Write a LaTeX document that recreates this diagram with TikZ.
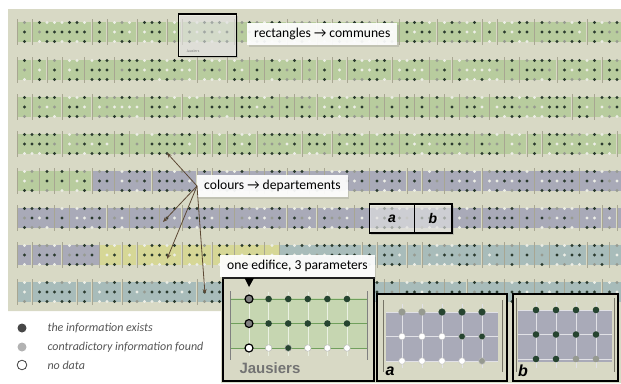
\documentclass[tikz,border=0pt]{standalone}
\usepackage{fontspec}
\setmainfont{Carlito}
\newfontfamily\labelsans{Liberation Sans}
\usepackage{tikz}
\usetikzlibrary{arrows.meta,shadows}

\definecolor{beige}{RGB}{216,217,197}
\definecolor{comgreen}{RGB}{184,204,158}
\definecolor{comgray}{RGB}{169,170,184}
\definecolor{comyellow}{RGB}{214,215,150}
\definecolor{comteal}{RGB}{168,188,186}
\definecolor{dotdark}{RGB}{42,58,46}
\definecolor{dotgray}{RGB}{150,154,144}
\definecolor{dotwhite}{RGB}{236,238,230}
\definecolor{barcol}{RGB}{168,166,146}
\definecolor{arrowbrown}{RGB}{92,72,52}
\definecolor{legendtext}{RGB}{85,85,85}
\definecolor{edgreen}{RGB}{38,68,48}
\definecolor{edline}{RGB}{112,160,92}

% one row of communes: y, start x, fill colour, columns per commune
\newcommand{\communerow}[4]{%
  \xdef\cx{#2}%
  \foreach \n in {#4} {
    \pgfmathsetmacro\cw{(\n+1)*7.5}
    \fill[#3] (\cx+0.8,#1-10) rectangle (\cx+\cw-0.8,#1+10);
    \draw[commbar] (\cx,#1-13) -- (\cx,#1+13);
    \foreach \k in {1,...,\n} {
      \foreach \r in {0,1,2} {
        \pgfmathrandominteger{\s}{1}{20}
        \ifnum\s<13 \def\dc{dotdark}\else\ifnum\s<18 \def\dc{dotwhite}\else\def\dc{dotgray}\fi\fi
        \fill[\dc] (\cx+\k*7.5,#1-9.5+\r*9.5) circle (1.65);
      }
    }
    \pgfmathsetmacro\nx{\cx+\cw}
    \xdef\cx{\nx}
  }
  \draw[commbar] (\cx,#1-13) -- (\cx,#1+13);
}

\begin{document}
\begin{tikzpicture}[x=1pt, y=-1pt]
    \tikzstyle{commbar} = [barcol, line width=0.6]
    \tikzstyle{callout} = [fill=white, fill opacity=0.92, text opacity=1, inner xsep=7pt, minimum height=22pt,
                           font=\fontsize{13.6}{15}\selectfont, drop shadow={opacity=0.25, shadow xshift=1.5pt, shadow yshift=-1.5pt}]
    \tikzstyle{selbox} = [draw=black, line width=1.8, fill=white, fill opacity=0.5,
                          drop shadow={opacity=0.3, shadow xshift=1.5pt, shadow yshift=-1.5pt}]
    \tikzstyle{inset} = [draw=black, line width=1.3, fill=beige]
    \tikzstyle{pointer} = [arrowbrown, line width=0.8, -{Stealth[length=5pt, width=4pt]}]
    \tikzstyle{legend} = [anchor=west, text=legendtext, font=\itshape\fontsize{12}{14}\selectfont]
    \tikzstyle{faint} = [white!65!comgray, line width=0.4]
    \useasboundingbox (0,0) rectangle (621,383);
    \pgfmathsetseed{17}

    % background
    \fill[beige] (8,9) -- (621,9) -- (621,383) -- (221,383) -- (221,311) -- (8,311) -- cycle;

    % the rows of communes
    \begin{scope}
        \clip (8,9) rectangle (621,311);
        \communerow{32}{17}{comgreen}{1,7,1,3,3,1,6,6,3,1,5,2,4,5,1,4,6,4}
        \communerow{70}{17}{comgreen}{1,1,1,2,3,10,3,2,1,4,1,1,1,5,4,2,6,1,4,5,2}
        \communerow{107}{17}{comgreen}{1,3,3,6,4,2,3,5,1,2,6,1,1,1,1,1,1,3,10,2,3}
        \communerow{144}{17}{comgreen}{5,6,1,1,6,1,1,3,5,3,4,3,9,3,2,1,9,1}
        \communerow{181}{17}{comgreen}{2,1,1,2}
        \communerow{181}{92}{comgray}{2,4,5,1,4,1,2,2,1,5,4,1,2,4,6,5,5}
        \communerow{218}{17}{comgray}{4,1,4,2,3,2,4,1,6,3,4,1,5,4,3,4,1,5,2,1,1}
        \communerow{255}{17}{comgray}{1,3,4}
        \communerow{255}{99.5}{comyellow}{2,1,5,3,2,3,1}
        \communerow{255}{279.5}{comteal}{10,1,3,1,7,2,1,1,1,4,2,1}
        \communerow{292}{17}{comteal}{1,5,1,3,9,5,2,4,6,3,1,5,2,4,3,3,4,2}
    \end{scope}

    % selected commune and a/b pair
    \filldraw[selbox] (178.5,14) rectangle (236.5,56.5);
    \node[text=gray, font=\fontsize{4}{5}\selectfont] (jsmall) at (193,51) {Jausiers};
    \filldraw[selbox] (369.5,204) rectangle (452,233);
    \draw[line width=1.8] (414.5,204) -- (414.5,233);
    \node[font=\labelsans\bfseries\itshape\fontsize{14}{16}\selectfont] (asmall) at (392,218.5) {a};
    \node[font=\labelsans\bfseries\itshape\fontsize{14}{16}\selectfont] (bsmall) at (433,218.5) {b};

    % labels
    \node[callout, anchor=west] (comm) at (247,34) {rectangles → communes};
    \node[callout, anchor=west] (dep) at (197,186) {colours → departements};
    \coordinate (p1) at (167,153);
    \coordinate (p2) at (163,222);
    \coordinate (p3) at (167,259);
    \coordinate (p4) at (205,294);
    \foreach \p in {p1,p2,p3,p4} {
        \draw[pointer] (dep.west) -- (\p);
    }

    % inset: one commune
    \filldraw[inset] (223,278) rectangle (374,381);
    \fill[comgreen!80!white] (230,298) rectangle (367,349);
    \foreach \k in {0,...,5} {
        \draw[white!70!comgreen, line width=0.4] (249+\k*19.6,292) -- (249+\k*19.6,356);
    }
    \draw[edline, line width=1] (230,299) -- (367,299);
    \draw[edline, line width=0.5] (230,323.5) -- (367,323.5);
    \draw[edline, line width=1] (230,348) -- (367,348);
    \draw[gray, line width=0.6] (230,291) -- (230,360);
    \draw[gray, line width=0.6] (367,291) -- (367,360);
    \foreach \k in {1,...,5} {
        \fill[edgreen] (249+\k*19.6,299) circle (3.3);
        \fill[edgreen] (249+\k*19.6,323.5) circle (3.3);
    }
    \foreach \k/\c in {1/white,2/edgreen,3/white,4/white,5/white} {
        \filldraw[fill=\c, draw=gray!60, line width=0.4] (249+\k*19.6,348) circle (3.3);
    }
    \filldraw[fill=gray, draw=black, line width=1.2] (249,299) circle (4);
    \filldraw[fill=gray, draw=black, line width=1.2] (249,323.5) circle (4);
    \filldraw[fill=white, draw=black, line width=1.2] (249,348) circle (4);
    \node[anchor=west, text=gray!90!black, font=\labelsans\bfseries\fontsize{15}{17}\selectfont] (jname) at (236,368) {Jausiers};
    \node[callout, anchor=west] (edif) at (220,266) {one edifice, 3 parameters};
    \fill[black] (244.5,278) -- (254,278) -- (249,287) -- cycle;

    % inset a
    \filldraw[inset] (377,294) rectangle (507,381);
    \fill[comgray] (386,312) rectangle (498,362);
    \foreach \k in {0,...,4} {
        \draw[faint] (402+\k*20,304) -- (402+\k*20,368);
    }
    \foreach \r in {312,336.5,361} {
        \draw[faint] (386,\r) -- (498,\r);
    }
    \draw[barcol!70!black, line width=0.7] (383,300) -- (383,372);
    \draw[barcol!70!black, line width=0.7] (502,300) -- (502,372);
    \foreach \k/\c in {0/dotgray,1/dotgray,2/edgreen,3/edgreen,4/edgreen} {
        \filldraw[fill=\c, draw=\c] (402+\k*20,312) circle (3.3);
    }
    \foreach \k/\c in {0/white,1/white,2/white,3/edgreen,4/edgreen} {
        \filldraw[fill=\c, draw=gray!50, line width=0.4] (402+\k*20,336.5) circle (3.3);
    }
    \foreach \k/\c in {0/white,1/white,2/white,3/white,4/dotgray} {
        \filldraw[fill=\c, draw=gray!50, line width=0.4] (402+\k*20,361) circle (3.3);
    }
    \node[font=\labelsans\bfseries\itshape\fontsize{16}{18}\selectfont] (alabel) at (390,371) {a};

    % inset b
    \filldraw[inset] (513,294) rectangle (618,381);
    \fill[comgray] (518,310) rectangle (612,362);
    \foreach \k in {0,...,3} {
        \draw[faint] (536+\k*20,302) -- (536+\k*20,368);
    }
    \foreach \r in {310,334.5,359} {
        \draw[faint] (518,\r) -- (612,\r);
    }
    \draw[barcol!70!black, line width=0.7] (516,298) -- (516,372);
    \draw[barcol!70!black, line width=0.7] (614,298) -- (614,372);
    \foreach \k in {0,...,3} {
        \fill[edgreen] (536+\k*20,310) circle (3.3);
        \fill[edgreen] (536+\k*20,334.5) circle (3.3);
    }
    \foreach \k/\c in {0/edgreen,1/edgreen,2/dotgray,3/dotgray} {
        \fill[\c] (536+\k*20,359) circle (3.3);
    }
    \node[font=\labelsans\bfseries\itshape\fontsize{16}{18}\selectfont] (blabel) at (523,371) {b};

    % legend
    \fill[black!72] (22,328) circle (4.5);
    \fill[black!30] (22,347) circle (4.5);
    \filldraw[fill=white, draw=black!75, line width=0.8] (22,365) circle (4.8);
    \node[legend] (lexists) at (44,328) {the information exists};
    \node[legend] (lcontra) at (44,347) {contradictory information found};
    \node[legend] (lnodata) at (44,365) {no data};
\end{tikzpicture}
\end{document}
